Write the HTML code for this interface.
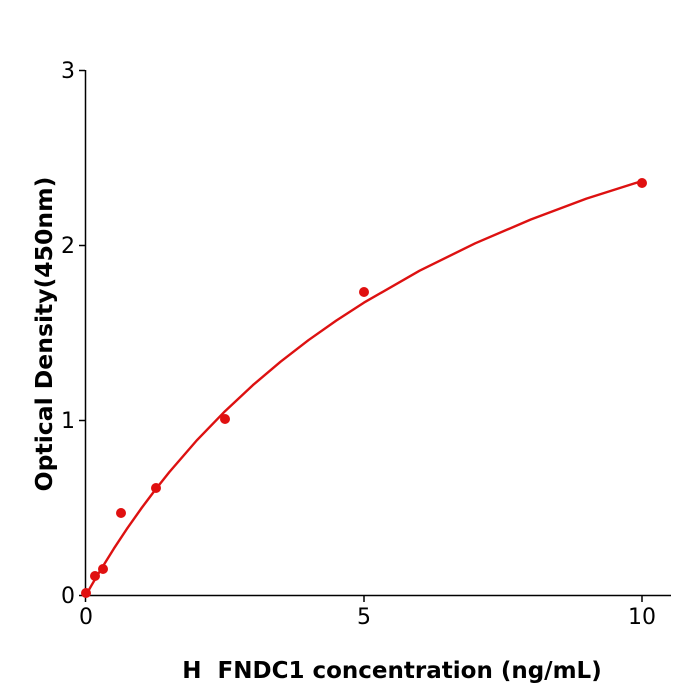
<!DOCTYPE html>
<html><head><style>body{margin:0;background:#fff}svg{display:block}</style></head><body>
<svg width="700" height="700" xmlns="http://www.w3.org/2000/svg" font-family="DejaVu Sans, Liberation Sans, sans-serif">
<rect width="700" height="700" fill="#fff"/>
<g stroke="#000" stroke-width="1.5" fill="none">
<line x1="85.5" y1="70" x2="85.5" y2="596"/>
<line x1="85" y1="595.5" x2="671" y2="595.5"/>
<line x1="79" y1="595.5" x2="85" y2="595.5"/>
<line x1="79" y1="420.5" x2="85" y2="420.5"/>
<line x1="79" y1="245.5" x2="85" y2="245.5"/>
<line x1="79" y1="70.5" x2="85" y2="70.5"/>
<line x1="85.5" y1="596" x2="85.5" y2="602"/>
<line x1="364" y1="596" x2="364" y2="602"/>
<line x1="642" y1="596" x2="642" y2="602"/>
</g>
<g font-size="22" fill="#000">
<text x="75" y="603" text-anchor="end">0</text>
<text x="75" y="428" text-anchor="end">1</text>
<text x="75" y="253" text-anchor="end">2</text>
<text x="75" y="78" text-anchor="end">3</text>
<text x="86" y="624" text-anchor="middle">0</text>
<text x="364" y="624" text-anchor="middle">5</text>
<text x="642" y="624" text-anchor="middle">10</text>
</g>
<text x="392" y="678" font-size="23" font-weight="bold" text-anchor="middle">H&#160;&#160;FNDC1 concentration (ng/mL)</text>
<text transform="translate(52,334) rotate(-90)" font-size="23.5" font-weight="bold" text-anchor="middle">Optical Density(450nm)</text>
<path d="M86,595 L91.6,585.2 L99.9,571.1 L113.8,548.7 L127.7,527.7 L141.6,508 L155.5,489.5 L169.4,472 L197.2,439.9 L225,411.2 L252.8,385.2 L280.6,361.7 L308.4,340.2 L336.2,320.6 L364,302.6 L419.6,270.7 L475.2,243.3 L530.8,219.5 L586.4,198.6 L642,181" fill="none" stroke="#dd1111" stroke-width="2.4" stroke-linejoin="round"/>
<g fill="#e01010">
<circle cx="86" cy="593" r="5"/>
<circle cx="95" cy="576" r="5"/>
<circle cx="103" cy="569" r="5"/>
<circle cx="121" cy="513" r="5"/>
<circle cx="156" cy="488" r="5"/>
<circle cx="225" cy="419" r="5"/>
<circle cx="364" cy="292" r="5"/>
<circle cx="642" cy="183" r="5"/>
</g>
</svg>
</body></html>
